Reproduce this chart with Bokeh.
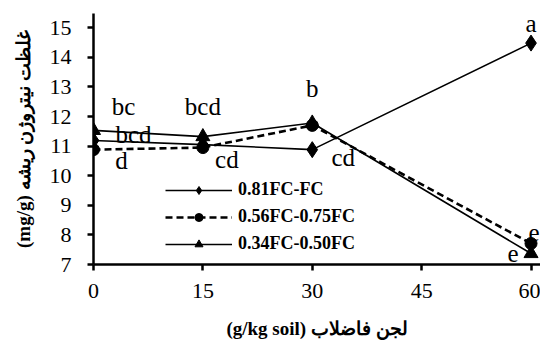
from bokeh.plotting import figure
from bokeh.models import (ColumnDataSource, Range1d, FixedTicker, Legend, LegendItem, LabelSet)
from bokeh.embed import file_html
from bokeh.resources import INLINE

# ---- data ----
x_vals = [0, 15, 30, 60]
s1_name = "0.81FC-FC"
s1_vals = [11.19, 11.05, 10.88, 14.48]
s1_letters = ["bcd", "cd", "cd", "a"]
s2_name = "0.56FC-0.75FC"
s2_vals = [10.88, 10.95, 11.70, 7.71]
s2_letters = ["d", "", "", "e"]
s3_name = "0.34FC-0.50FC"
s3_vals = [11.53, 11.32, 11.78, 7.37]
s3_letters = ["bc", "bcd", "b", "e"]
x_ticks = [0, 15, 30, 45, 60]
y_ticks = [7, 8, 9, 10, 11, 12, 13, 14, 15]
x_title = "(g/kg soil) لجن فاضلاب"
y_title = "(mg/g) غلظت نیتروژن ریشه"

# label offsets (screen px, y up) - styling only
s1_dx = [40, 24, 31, 0]
s1_dy = [6, -15, -8, 20]
s2_dx = [28, 0, 0, 3]
s2_dy = [-11, 0, 0, 11]
s3_dx = [30, 0, 0, -18]
s3_dy = [24, 30, 35, 0]

SERIF = "Liberation Serif"

p = figure(width=540, height=343, output_backend="svg", toolbar_location=None,
           x_range=Range1d(0, 61.3), y_range=Range1d(7, 15.48),
           min_border_left=93, min_border_right=0, min_border_top=13, min_border_bottom=79)
p.outline_line_color = None
p.xgrid.visible = False
p.ygrid.visible = False
p.background_fill_color = "white"
p.border_fill_color = "white"

for ax in (p.xaxis[0], p.yaxis[0]):
    ax.axis_line_width = 2.5
    ax.axis_line_color = "black"
    ax.major_tick_line_width = 2.5
    ax.major_tick_line_color = "black"
    ax.major_tick_out = 6
    ax.major_tick_in = 0
    ax.minor_tick_line_color = None
    ax.major_label_text_font = SERIF
    ax.major_label_text_font_size = "22px"
    ax.major_label_text_color = "black"
    ax.axis_label_text_font = SERIF
    ax.axis_label_text_font_size = "19px"
    ax.axis_label_text_font_style = "bold"
    ax.axis_label_text_color = "black"

p.xaxis.ticker = FixedTicker(ticks=x_ticks)
p.yaxis.ticker = FixedTicker(ticks=y_ticks)
p.xaxis.axis_label = x_title
p.yaxis.axis_label = y_title
p.xaxis.major_label_standoff = 13
p.yaxis.major_label_standoff = 16
p.xaxis.axis_label_standoff = 17
p.yaxis.axis_label_standoff = 13

# series 3 (triangles), solid
src3 = ColumnDataSource(dict(x=x_vals, y=s3_vals, t=s3_letters, dx=s3_dx, dy=s3_dy))
l3 = p.line("x", "y", source=src3, line_color="black", line_width=1.6)
m3 = p.scatter("x", "y", source=src3, marker="triangle", size=14, color="black")
# series 2 (circles), dashed
src2 = ColumnDataSource(dict(x=x_vals, y=s2_vals, t=s2_letters, dx=s2_dx, dy=s2_dy))
l2 = p.line("x", "y", source=src2, line_color="black", line_width=2.6, line_dash="7 4")
m2 = p.scatter("x", "y", source=src2, marker="circle", size=12, color="black")
# series 1 (diamonds), solid
src1 = ColumnDataSource(dict(x=x_vals, y=s1_vals, t=s1_letters, dx=s1_dx, dy=s1_dy))
l1 = p.line("x", "y", source=src1, line_color="black", line_width=1.6)
m1 = p.scatter("x", "y", source=src1, marker="diamond", size=16, color="black")

for src in (src1, src2, src3):
    p.add_layout(LabelSet(x="x", y="y", text="t", source=src, x_offset="dx", y_offset="dy",
                          text_font=SERIF, text_font_size="25px", text_color="black",
                          text_align="center", text_baseline="middle"))

legend = Legend(items=[LegendItem(label=s1_name, renderers=[l1, m1]),
                       LegendItem(label=s2_name, renderers=[l2, m2]),
                       LegendItem(label=s3_name, renderers=[l3, m3])],
                location=(72, 10), orientation="vertical",
                glyph_width=67, glyph_height=20, label_height=20, spacing=6,
                label_standoff=6, padding=0, margin=0,
                border_line_color=None, background_fill_alpha=0,
                label_text_font=SERIF, label_text_font_size="18px",
                label_text_font_style="bold", label_text_color="black")
p.add_layout(legend)

open("out.html", "w").write(file_html(p, INLINE))
